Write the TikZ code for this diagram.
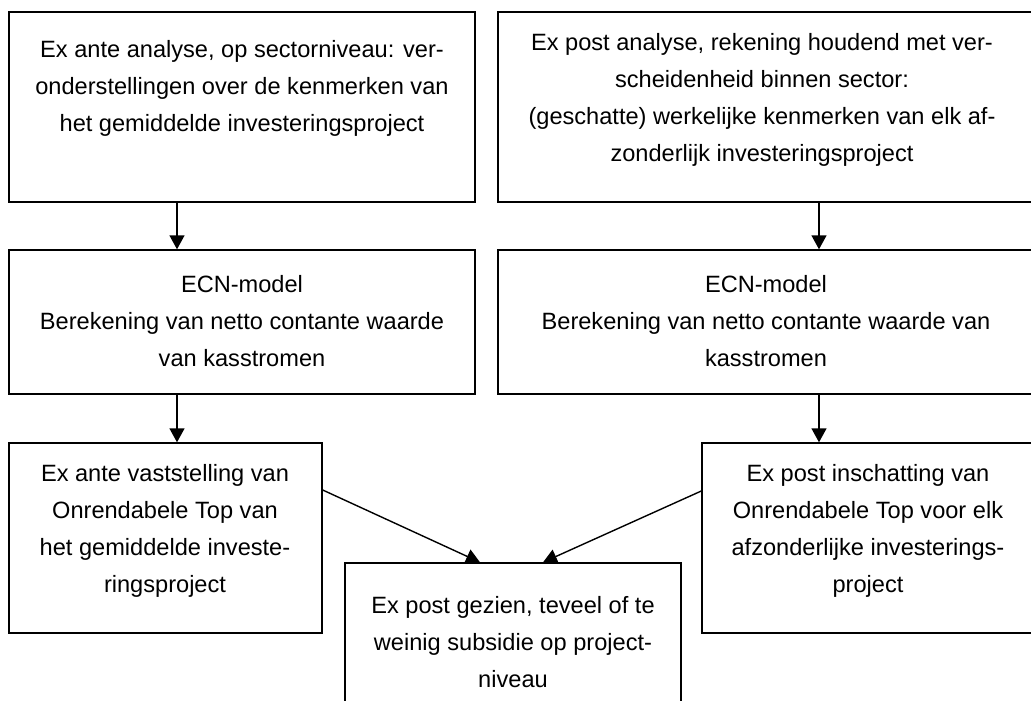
\documentclass[tikz,border=0pt]{standalone}
\usepackage{fontspec}
\setmainfont{Liberation Sans}
\usetikzlibrary{arrows.meta}
\begin{document}
\begin{tikzpicture}[x=1pt,y=-1pt,
  box/.style={draw, line width=1.4pt, rectangle, inner sep=0pt},
  txt/.style={align=center, inner sep=0pt, font=\fontsize{23.6pt}{37pt}\selectfont},
  arr/.style={line width=1.4pt, -{Triangle[width=15pt,length=14pt]}}]
\useasboundingbox (0,0) rectangle (1031,701);
\clip (0,0) rectangle (1031,701);
\fill[white] (0,0) rectangle (1031,701);
% boxes
\node[box, minimum width=466pt, minimum height=190pt] (b1) at (242,107) {};
\node[box, minimum width=538pt, minimum height=190pt] (b2) at (767,107) {};
\node[box, minimum width=466pt, minimum height=144pt] (b3) at (242,322) {};
\node[box, minimum width=538pt, minimum height=144pt] (b4) at (767,322) {};
\node[box, minimum width=313pt, minimum height=190pt] (b5) at (165.5,538) {};
\node[box, minimum width=334pt, minimum height=190pt] (b6) at (869,538) {};
\node[box, minimum width=336pt, minimum height=162pt] (b7) at (513,644) {};
% texts
\node[txt] (t1) at (242,88) {Ex ante analyse, op sectorniveau: ver-\\onderstellingen over de kenmerken van\\het gemiddelde investeringsproject};
\node[txt] (t2) at (762,100) {Ex post analyse, rekening houdend met ver-\\scheidenheid binnen sector:\\(geschatte) werkelijke kenmerken van elk af-\\zonderlijk investeringsproject};
\node[txt] (t3) at (242,321) {ECN-model\\Berekening van netto contante waarde\\van kasstromen};
\node[txt] (t4) at (766,321) {ECN-model\\Berekening van netto contante waarde van\\kasstromen};
\node[txt] (t5) at (165,531) {Ex ante vaststelling van\\Onrendabele Top van\\het gemiddelde investe-\\ringsproject};
\node[txt] (t6) at (868,531) {Ex post inschatting van\\Onrendabele Top voor elk\\afzonderlijke investerings-\\project};
\node[txt] (t7) at (513,642) {Ex post gezien, teveel of te\\weinig subsidie op project-\\niveau};
% arrows
\draw[arr] ([xshift=-65pt]b1.south) -- ([xshift=-65pt]b3.north);
\draw[arr] ([xshift=52pt]b2.south) -- ([xshift=52pt]b4.north);
\draw[arr] ([xshift=-65pt]b3.south) -- ([xshift=11.5pt]b5.north);
\draw[arr] ([xshift=52pt]b4.south) -- ([xshift=-50pt]b6.north);
\draw[arr] ([yshift=48pt]b5.east) -- ([xshift=-33pt]b7.north);
\draw[arr] ([yshift=47pt]b6.west) -- ([xshift=30pt]b7.north);
\end{tikzpicture}
\end{document}
